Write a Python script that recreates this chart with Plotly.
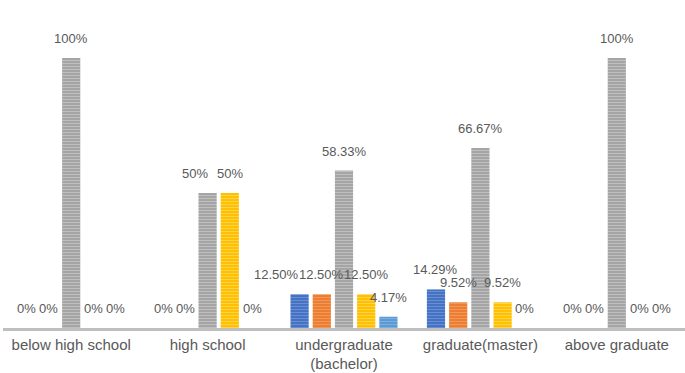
import plotly.graph_objects as go

categories = ["below high school", "high school", "undergraduate<br>(bachelor)", "graduate(master)", "above graduate"]
series_names = ["S1", "S2", "S3", "S4", "S5"]
s1 = [0, 0, 12.50, 14.29, 0]
s2 = [0, 0, 12.50, 9.52, 0]
s3 = [100, 50, 58.33, 66.67, 100]
s4 = [0, 50, 12.50, 9.52, 0]
s5 = [0, 0, 4.17, 0, 0]
series_values = [s1, s2, s3, s4, s5]
colors = ["#4472C4", "#ED7D31", "#A5A5A5", "#FFC000", "#5B9BD5"]
fg_colors = ["#8FAADC", "#F4B183", "#D9D9D9", "#FFE699", "#9DC3E6"]

BARGAP = 0.186
BARGROUPGAP = 0.18
# label nudges (series index, category index) -> pixel shift, as in the original
LABEL_NUDGE = {(2, 1): -13, (0, 2): -23}

def fmt(v):
    if float(v).is_integer():
        return f"{int(v)}%"
    return f"{v:.2f}%"

fig = go.Figure()
n = len(series_values)
slot = (1 - BARGAP) / n
for i, (name, vals, c, fg) in enumerate(zip(series_names, series_values, colors, fg_colors)):
    fig.add_trace(go.Bar(
        x=categories, y=vals, name=name,
        marker=dict(color=c, line=dict(width=0),
                    pattern=dict(shape="-", bgcolor=c, fgcolor=fg, size=3, solidity=0.35, fillmode="overlay")),
    ))
    off = (i - (n - 1) / 2) * slot
    for j, v in enumerate(vals):
        fig.add_annotation(
            x=j + off, y=v, xref="x", yref="y",
            text=fmt(v), showarrow=False,
            yanchor="bottom", xanchor="center", yshift=10,
            xshift=LABEL_NUDGE.get((i, j), 0),
            font=dict(color="#595959", size=13, family="Liberation Sans"),
        )

fig.update_layout(
    width=685, height=373,
    margin=dict(l=3, r=0, t=20, b=45),
    barmode="group", bargap=BARGAP, bargroupgap=BARGROUPGAP,
    plot_bgcolor="white", paper_bgcolor="white",
    showlegend=False,
    font=dict(family="Liberation Sans", color="#595959", size=15),
)
fig.update_yaxes(range=[0, 114.07], visible=False, showgrid=False)
fig.update_xaxes(showline=True, linecolor="#BFBFBF", linewidth=2.5, ticks="",
                 tickfont=dict(size=15, color="#595959", family="Liberation Sans"),
                 ticklabelstandoff=1,
                 showgrid=False, automargin=False, type="category")
fig.write_html("out.html", config={"displayModeBar": False},
               post_script="document.body.style.margin='0';document.body.style.padding='0';")
